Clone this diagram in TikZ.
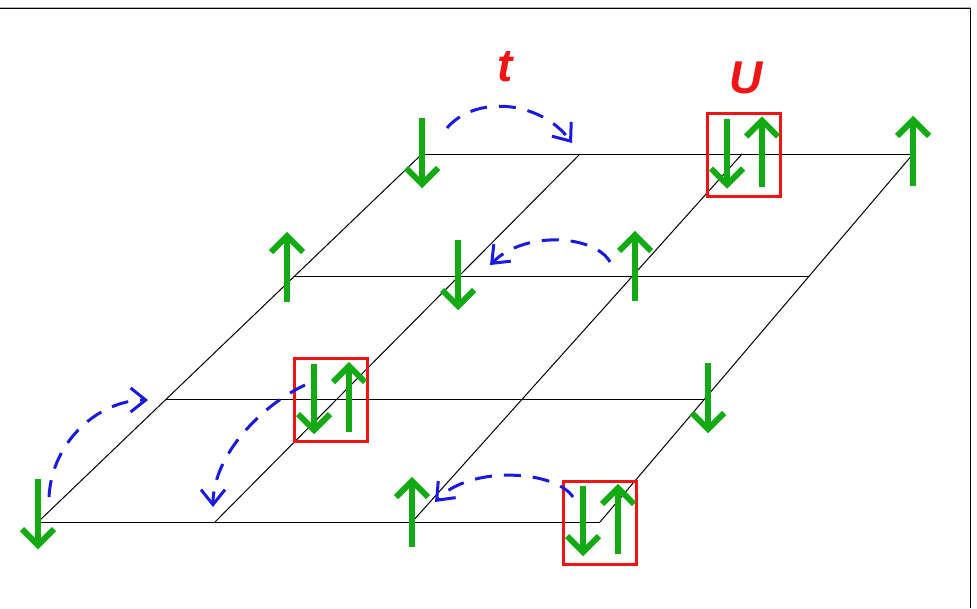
\documentclass[tikz,border=0pt]{standalone}
\usepackage{fontspec}
\setmainfont{Liberation Sans}
\usetikzlibrary{arrows.meta,calc}
\definecolor{spingreen}{RGB}{20,170,20}
\definecolor{hopblue}{RGB}{25,25,225}
\definecolor{ured}{RGB}{240,20,20}
\tikzset{
  gridline/.style={black, line width=1},
  spin/.style={spingreen, line width=6, line join=miter, line cap=butt},
  upspin/.pic={
    \draw[spin] (0,34)--(0,-31);
    \draw[spin] (-16,-16)--(0,-32)--(16,-16);
  },
  downspin/.pic={
    \draw[spin] (0,-34)--(0,31);
    \draw[spin] (-16,16)--(0,32)--(16,16);
  },
  ubox/.style={draw=ured, line width=3, minimum width=73, minimum height=83, inner sep=0},
  hop/.style={hopblue, line width=3, dash pattern=on 17pt off 12pt,
    -{Straight Barb[length=15pt,width=24pt,line width=3]}},
  lbl/.style={text=ured, font=\fontsize{46}{46}\selectfont\bfseries\itshape, inner sep=0}
}
\begin{document}
\begin{tikzpicture}[x=1pt,y=-1pt]
\useasboundingbox (0,0) rectangle (977,608);
% frame
\draw[gray!60, line width=1] (0,7)--(971,7);
\draw[black, line width=1.2] (0,8.5)--(970.5,8.5)--(970.5,608);

% lattice
\coordinate (B0) at (38,522);  \coordinate (T0) at (422,154);
\coordinate (B1) at (215,522); \coordinate (T1) at (580,154);
\coordinate (B2) at (412,522); \coordinate (T2) at (742,154);
\coordinate (B3) at (600,522); \coordinate (T3) at (913,154);
\foreach \i in {0,1,2,3} { \draw[gridline] (B\i) -- (T\i); }
\foreach \r in {0,0.3333,0.6667,1} { \draw[gridline] ($(B0)!\r!(T0)$) -- ($(B3)!\r!(T3)$); }

% boxes (double occupancy)
\node[ubox] (box1) at (743.5,154.5) {};
\node[ubox] (box2) at (330.5,400) {};
\node[ubox] (box3) at (599.5,522.5) {};

% spins
\pic at (422,152) {downspin};
\pic at (727,152.5) {downspin};
\pic at (762,152.5) {upspin};
\pic at (913,152) {upspin};

\pic at (287,268) {upspin};
\pic at (458,274) {downspin};
\pic at (635,267) {upspin};

\pic at (314,398) {downspin};
\pic at (349,398) {upspin};
\pic at (708,397) {downspin};

\pic at (38,513) {downspin};
\pic at (412,513) {upspin};
\pic at (583,520) {downspin};
\pic at (618,520) {upspin};

% hopping
\coordinate (h1s) at (447,128); \coordinate (h1e) at (572,143);
\draw[hop] (h1s) .. controls (475,95) and (540,100) .. (h1e);
\coordinate (h2s) at (610,262); \coordinate (h2e) at (490,265);
\draw[hop] (h2s) .. controls (595,235) and (525,230) .. (h2e);
\coordinate (h3s) at (49,497); \coordinate (h3e) at (148,400);
\draw[hop] (h3s) .. controls (52,440) and (100,400) .. (h3e);
\coordinate (h4s) at (305,385); \coordinate (h4e) at (213,507);
\draw[hop] (h4s) .. controls (262,405) and (213,455) .. (h4e);
\coordinate (h5s) at (573,497); \coordinate (h5e) at (435,502);
\draw[hop] (h5s) .. controls (555,470) and (470,465) .. (h5e);

% labels
\node[lbl] (t) at (505,67) {t};
\node[lbl] (U) at (746,78) {U};
\end{tikzpicture}
\end{document}
